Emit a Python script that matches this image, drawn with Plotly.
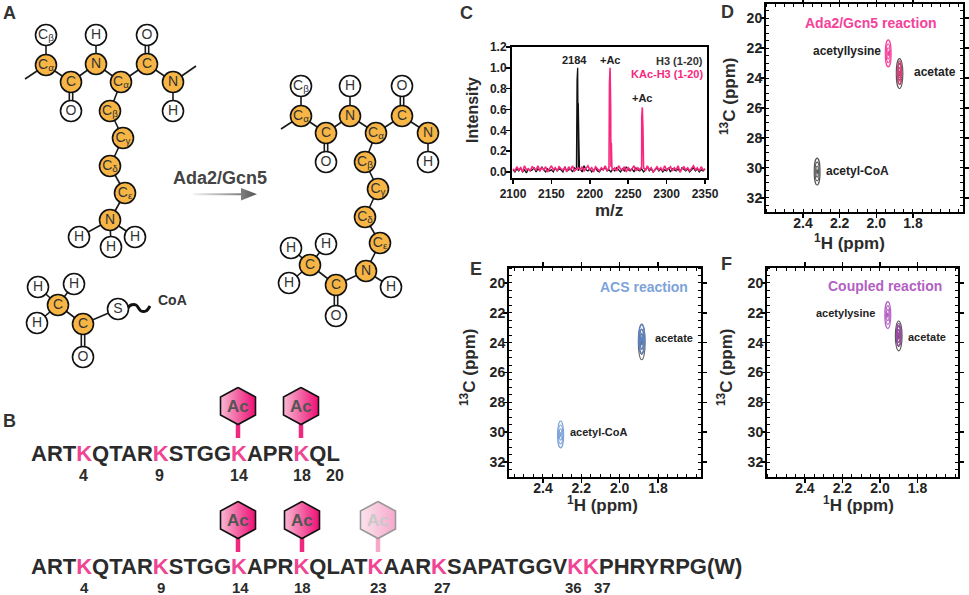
import plotly.graph_objects as go

W, H = 969, 595
FONT = "Liberation Sans, Arial, sans-serif"
DARK = "#2b2b2b"
PINK = "#f7287e"
KPINK = "#ef4592"

# ---------------- Panel C : mass spectrum ----------------
noise_start = 2100.0
noise_step = 2.5
black_noise = [2, 0, 3, 1, 4, 0, 2, -1, 3, 1, 2, 4, 0, 3, 1, 5, 2, 0, 3, 1, 2, 0, 4, 1, 3, 2, 0, 5, 1, 2,
               3, 0, 4, 2, 1, 3, 0, 6, 2, 1, 3, 0, 2, 4, 1, 0, 3, 2, 5, 1, 2, 0, 3, 1, 4, 2, 0, 3, 1, 5,
               2, 1, 3, 0, 4, 2, 1, 3, 0, 2, 5, 1, 3, 0, 2, 4, 1, 3, 0, 2, 1, 4, 0, 3, 2, 1, 3, 0, 4, 2,
               1, 3, 0, 2, 4, 1, 3, 0, 2, 1, 3]
pink_noise = [3, 1, 5, 2, 4, 0, 6, 2, 3, 1, 5, 3, 2, 6, 1, 4, 2, 5, 0, 3, 6, 2, 4, 1, 5, 3, 2, 4, 0, 5,
              2, 6, 1, 3, 4, 2, 5, 1, 3, 6, 2, 4, 0, 5, 3, 1, 4, 2, 6, 1, 3, 5, 2, 4, 1, 6, 3, 2, 5, 0,
              4, 2, 3, 6, 1, 4, 2, 5, 3, 1, 6, 2, 4, 0, 3, 5, 2, 4, 1, 6, 2, 3, 5, 1, 4, 2, 6, 0, 3, 5,
              2, 4, 1, 3, 6, 2, 4, 1, 5, 2, 3]
black_peak_mz = [2182.6, 2183.4, 2184.2, 2185.0, 2185.8, 2186.6]
black_peak_int = [0.03, 0.88, 1.0, 0.66, 0.30, 0.03]
pink_peak1_mz = [2224.8, 2225.6, 2226.4, 2227.2, 2228.0, 2228.8]
pink_peak1_int = [0.04, 0.85, 1.0, 0.60, 0.28, 0.04]
pink_peak2_mz = [2266.8, 2267.6, 2268.4, 2269.2, 2270.0, 2270.8]
pink_peak2_int = [0.04, 0.52, 0.62, 0.42, 0.20, 0.04]
ms_xticks = [2100, 2150, 2200, 2250, 2300, 2350]
ms_yticks = [0.0, 0.2, 0.4, 0.6, 0.8, 1.0, 1.2]


def spectrum(noise, peaks):
    pts = [(noise_start + noise_step * i, v / 100.0) for i, v in enumerate(noise)]
    for mzs, ints in peaks:
        pts += list(zip(mzs, ints))
    pts.sort()
    return [p[0] for p in pts], [p[1] for p in pts]


bx, by = spectrum(black_noise, [(black_peak_mz, black_peak_int)])
px_, py_ = spectrum(pink_noise, [(pink_peak1_mz, pink_peak1_int), (pink_peak2_mz, pink_peak2_int)])

# ---------------- Panels D/E/F : HSQC peaks ----------------
nmr_xticks = [2.4, 2.2, 2.0, 1.8]
nmr_yticks = [20, 22, 24, 26, 28, 30, 32]
ring_scales = [1.0, 0.7, 0.42, 0.15]

D_h = [1.935, 1.873, 1.873, 2.323]
D_c = [22.35, 23.7, 23.65, 30.25]
D_dh = [0.016, 0.018, 0.012, 0.016]
D_dc = [0.9, 1.0, 0.8, 0.9]
D_col = ["#f5419b", "#555555", "#d8407a", "#555555"]

E_h = [1.885, 1.885, 2.308]
E_c = [23.95, 23.75, 30.15]
E_dh = [0.018, 0.015, 0.016]
E_dc = [1.2, 0.95, 0.9]
E_col = ["#666666", "#5b84c8", "#7ea3d9"]

F_h = [1.958, 1.90, 1.90]
F_c = [22.15, 23.55, 23.45]
F_dh = [0.016, 0.018, 0.012]
F_dc = [0.9, 1.0, 0.75]
F_col = ["#b35fc3", "#555555", "#9a4ca5"]

# ---------------- Panel A : atoms ----------------
atom_labels = ["C<sub>β</sub>", "C<sub>α</sub>", "C", "O", "N", "H", "C<sub>α</sub>", "C", "O", "N", "H",
               "C<sub>β</sub>", "C<sub>γ</sub>", "C<sub>δ</sub>", "C<sub>ε</sub>", "N", "H", "H", "H",
               "H", "H", "C", "H", "C", "O", "S",
               "C<sub>β</sub>", "C<sub>α</sub>", "C", "O", "N", "H", "C<sub>α</sub>", "C", "O", "N", "H",
               "C<sub>β</sub>", "C<sub>γ</sub>", "C<sub>δ</sub>", "C<sub>ε</sub>", "N", "H", "C", "O", "C",
               "H", "H", "H"]
atom_x = [46, 46, 71, 71, 96, 96, 121, 147, 147, 173, 173, 110, 123, 110, 125, 110, 79, 111, 135,
          38, 74, 58, 37, 83, 83, 118,
          301, 301, 326, 326, 350, 350, 376, 402, 402, 428, 428, 365, 378, 365, 380, 366, 391, 336, 336,
          310, 291, 326, 289]
atom_y = [35, 65, 82, 111, 64, 35, 82, 64, 35, 82, 111, 111, 138, 166, 193, 220, 237, 247, 237,
          287, 284, 305, 323, 324, 357, 309,
          86, 116, 133, 162, 116, 86, 133, 116, 86, 133, 162, 162, 189, 217, 243, 271, 287, 285, 316,
          265, 248, 244, 283]
atom_orange = [0, 1, 1, 0, 1, 0, 1, 1, 0, 1, 0, 1, 1, 1, 1, 1, 0, 0, 0,
               0, 0, 1, 0, 1, 0, 0,
               0, 1, 1, 0, 1, 0, 1, 1, 0, 1, 0, 1, 1, 1, 1, 1, 0, 1, 0,
               1, 0, 0, 0]
single_bonds = [(0, 1), (1, 2), (2, 4), (4, 5), (4, 6), (6, 7), (7, 9), (9, 10), (6, 11), (11, 12),
                (12, 13), (13, 14), (14, 15), (15, 16), (15, 17), (15, 18),
                (19, 21), (20, 21), (22, 21), (21, 23), (23, 25),
                (26, 27), (27, 28), (28, 30), (30, 31), (30, 32), (32, 33), (33, 35), (35, 36), (32, 37),
                (37, 38), (38, 39), (39, 40), (40, 41), (41, 42), (41, 43), (43, 45), (45, 46), (45, 47),
                (45, 48)]
double_bonds = [(2, 3), (7, 8), (23, 24), (28, 29), (33, 34), (43, 44)]
stub_from = [1, 9, 27]
stub_to_x = [25, 196, 281]
stub_to_y = [79, 66, 129]
coa_wave_x = [127, 131, 136, 141, 146, 150]
coa_wave_y = [309, 305, 305, 311, 311, 306]

# ---------------- Panel B : sequences ----------------
seq1 = "ARTKQTARKSTGGKAPRKQL"
seq2 = "ARTKQTARKSTGGKAPRKQLATKAARKSAPATGGVKKPHRYRPG(W)"
seq1_num = ["4", "9", "14", "18", "20"]
seq1_num_x = [83, 159, 239, 302, 335]
seq2_num = ["4", "9", "14", "18", "23", "27", "36", "37"]
seq2_num_x = [84, 161, 240, 302, 378, 442, 573, 602]
ac_x = [238, 301, 238, 302, 378]
ac_y = [406, 406, 520, 520, 520]
ac_faded = [0, 0, 0, 0, 1]

fig = go.Figure()

# ---- C traces ----
fig.add_trace(go.Scatter(x=bx, y=by, mode="lines", line=dict(color="#111111", width=1.3),
                         xaxis="x", yaxis="y", hoverinfo="skip"))
fig.add_trace(go.Scatter(x=px_, y=py_, mode="lines", line=dict(color=PINK, width=1.6),
                         xaxis="x", yaxis="y", hoverinfo="skip"))

shapes = []
annotations = []


def ann(x, y, text, size, color=DARK, xref="x5", yref="y5", xanchor="center", yanchor="middle",
        angle=0, bold=True):
    annotations.append(dict(x=x, y=y, xref=xref, yref=yref, text=text, showarrow=False,
                            xanchor=xanchor, yanchor=yanchor, textangle=angle,
                            font=dict(family=FONT, size=size, color=color,
                                      weight="bold" if bold else "normal")))


ann(2180, 1.0, "2184", 11, "#222", "x", "y", yanchor="bottom")
ann(2227.5, 1.0, "+Ac", 11, "#222", "x", "y", yanchor="bottom")
ann(2269, 0.63, "+Ac", 11, "#222", "x", "y", yanchor="bottom")
ann(2350, 1.07, "H3 (1-20)", 11, "#333", "x", "y", xanchor="right")
ann(2350, 0.945, "KAc-H3 (1-20)", 11, PINK, "x", "y", xanchor="right")

# ---- NMR ellipses ----
for ax, hs, cs, dhs, dcs, cols in [("2", D_h, D_c, D_dh, D_dc, D_col),
                                   ("3", E_h, E_c, E_dh, E_dc, E_col),
                                   ("4", F_h, F_c, F_dh, F_dc, F_col)]:
    for h, c, dh, dc, col in zip(hs, cs, dhs, dcs, cols):
        for s in ring_scales:
            shapes.append(dict(type="circle", xref="x" + ax, yref="y" + ax,
                               x0=h - dh * s, x1=h + dh * s, y0=c - dc * s, y1=c + dc * s,
                               line=dict(color=col, width=1.1)))

# NMR labels (data coordinates)
ann(2.027, 20.34, "Ada2/Gcn5 reaction", 14, "#f5419b", "x2", "y2")
ann(1.962, 22.2, "acetyllysine", 12, "#222", "x2", "y2", xanchor="right")
ann(1.805, 23.6, "acetate", 12, "#222", "x2", "y2", xanchor="left")
ann(2.285, 30.2, "acetyl-CoA", 12, "#222", "x2", "y2", xanchor="left")
ann(1.875, 20.27, "ACS reaction", 14, "#7ea3d9", "x3", "y3")
ann(1.828, 23.7, "acetate", 11, "#222", "x3", "y3", xanchor="left")
ann(2.27, 30.0, "acetyl-CoA", 11, "#222", "x3", "y3", xanchor="left")
ann(1.974, 20.2, "Coupled reaction", 14, "#b35fc3", "x4", "y4")
ann(2.017, 22.0, "acetylysine", 11, "#222", "x4", "y4", xanchor="right")
ann(1.863, 23.6, "acetate", 11, "#222", "x4", "y4", xanchor="left")

# axis titles
ann(472, 110, "Intensity", 16, DARK, angle=-90)
ann(609, 210, "m/z", 17, DARK)
ann(728, 97, "<sup>13</sup>C (ppm)", 17, DARK, angle=-90)
ann(849, 242, "<sup>1</sup>H (ppm)", 17, DARK)
ann(468, 368, "<sup>13</sup>C (ppm)", 17, DARK, angle=-90)
ann(602, 504, "<sup>1</sup>H (ppm)", 17, DARK)
ann(725, 368, "<sup>13</sup>C (ppm)", 17, DARK, angle=-90)
ann(858, 504, "<sup>1</sup>H (ppm)", 17, DARK)

# panel letters
for lx, ly, lt in [(9, 13, "A"), (9, 421, "B"), (466, 13, "C"), (727, 12, "D"), (476, 269, "E"),
                   (726, 264, "F")]:
    ann(lx, ly, lt, 18, "#333")

# ---- Panel A drawing ----
bx_l, by_l = [], []
for a, b in single_bonds:
    bx_l += [atom_x[a], atom_x[b], None]
    by_l += [atom_y[a], atom_y[b], None]
for a, xx, yy in zip(stub_from, stub_to_x, stub_to_y):
    bx_l += [atom_x[a], xx, None]
    by_l += [atom_y[a], yy, None]
for a, b in double_bonds:
    ddx, ddy = atom_x[b] - atom_x[a], atom_y[b] - atom_y[a]
    ln = (ddx ** 2 + ddy ** 2) ** 0.5
    nx, ny = -ddy / ln * 1.7, ddx / ln * 1.7
    for sgn in (1, -1):
        bx_l += [atom_x[a] + sgn * nx, atom_x[b] + sgn * nx, None]
        by_l += [atom_y[a] + sgn * ny, atom_y[b] + sgn * ny, None]
fig.add_trace(go.Scatter(x=bx_l, y=by_l, mode="lines", line=dict(color="#1a1a1a", width=1.6),
                         xaxis="x5", yaxis="y5", hoverinfo="skip"))
fig.add_trace(go.Scatter(x=coa_wave_x, y=coa_wave_y, mode="lines",
                         line=dict(color="#111", width=3, shape="spline"),
                         xaxis="x5", yaxis="y5", hoverinfo="skip"))
fig.add_trace(go.Scatter(
    x=atom_x, y=atom_y, mode="markers+text", text=atom_labels, textposition="middle center",
    textfont=dict(family=FONT, size=14, color="#333333"),
    marker=dict(size=21, color=["#f6b545" if o else "white" for o in atom_orange],
                line=dict(color="#111", width=1.6)),
    xaxis="x5", yaxis="y5", hoverinfo="skip"))
ann(172, 300, "CoA", 14, "#333")

# reaction arrow
fig.add_trace(go.Scatter(
    x=[193, 241, 241, 257, 241, 241, 193, 193], y=[193.2, 193.2, 188, 194.2, 200.4, 195.2, 195.2, 193.2],
    mode="lines", fill="toself", line=dict(width=0, color="rgba(0,0,0,0)"),
    fillgradient=dict(type="horizontal", colorscale=[[0, "#f2f2f2"], [0.6, "#9a9a9a"], [1, "#555555"]]),
    xaxis="x5", yaxis="y5", hoverinfo="skip"))
ann(220, 178, "Ada2/Gcn5", 18, "#444")

# ---- Panel B ----
def seq_html(s):
    return "".join('<span style="color:%s">K</span>' % KPINK if ch == "K" else ch for ch in s)


ann(29, 453, seq_html(seq1), 22, DARK, xanchor="left")
ann(29, 566, seq_html(seq2), 22, DARK, xanchor="left")
for t, xx in zip(seq1_num, seq1_num_x):
    ann(xx, 475, t, 16, DARK)
for t, xx in zip(seq2_num, seq2_num_x):
    ann(xx, 587, t, 15, DARK)

hex_dx = [0, 17.5, 17.5, 0, -17.5, -17.5, 0]
hex_dy = [-18.5, -9, 9, 18.5, 9, -9, -18.5]
for cx, cy, fd in zip(ac_x, ac_y, ac_faded):
    stem = "#f7a8c8" if fd else "#f0287f"
    fig.add_trace(go.Scatter(x=[cx, cx], y=[cy + 17, cy + 32], mode="lines",
                             line=dict(color=stem, width=4.5), xaxis="x5", yaxis="y5",
                             hoverinfo="skip"))
    cs = [[0, "#fbe4ee"], [1, "#f6a9cb"]] if fd else [[0, "#f7b8d3"], [1, "#ee0f74"]]
    fig.add_trace(go.Scatter(
        x=[cx + d for d in hex_dx], y=[cy + d for d in hex_dy], mode="lines", fill="toself",
        line=dict(color="#999999" if fd else "#111111", width=1.6),
        fillgradient=dict(type="horizontal", colorscale=cs),
        xaxis="x5", yaxis="y5", hoverinfo="skip"))
    ann(cx, cy, "Ac", 17, "#c9c9c9" if fd else "#555555")

# ---------------- layout ----------------
def dx(a, b):
    return [a / W, b / W]


def dy(top, bottom):
    return [1 - bottom / H, 1 - top / H]


nmr_common = dict(showline=True, linecolor="black", linewidth=2, mirror="ticks", ticks="outside",
                  ticklen=4, tickwidth=1.5, tickcolor="black", showgrid=False, zeroline=False,
                  tickfont=dict(family=FONT, size=14, color="#222", weight="bold"),
                  fixedrange=True, automargin=False)


def nmr_x(domain, rng):
    d = dict(nmr_common)
    d.update(domain=domain, range=rng, tickmode="array", tickvals=nmr_xticks,
             ticktext=["%.1f" % v for v in nmr_xticks], ticklabelstandoff=-7,
             minor=dict(ticks="inside", ticklen=3, tickwidth=1, tickcolor="black", dtick=0.05, tick0=0))
    return d


def nmr_y(domain):
    d = dict(nmr_common)
    d.update(domain=domain, range=[33.0, 19.0], tickmode="array", tickvals=nmr_yticks,
             ticktext=[str(v) for v in nmr_yticks], ticklabelstandoff=-5,
             minor=dict(ticks="inside", ticklen=3, tickwidth=1, tickcolor="black", dtick=0.5, tick0=0))
    return d


ms_common = dict(showline=True, linecolor="black", linewidth=2, mirror=True, ticks="outside",
                 ticklen=4, tickwidth=1.5, tickcolor="black", showgrid=False, zeroline=False,
                 tickfont=dict(family=FONT, size=12, color="#222", weight="bold"), fixedrange=True,
                 automargin=False)

yD = nmr_y(dy(4, 212))
yD["range"] = [32.95, 19.05]

fig.update_layout(
    width=W, height=H, margin=dict(l=0, r=0, t=0, b=0, pad=0), autosize=False,
    paper_bgcolor="white", plot_bgcolor="rgba(0,0,0,0)", showlegend=False,
    font=dict(family=FONT, color=DARK),
    xaxis=dict(ms_common, domain=dx(512, 707), range=[2098.7, 2352.6], anchor="y",
               tickmode="array", tickvals=ms_xticks, ticktext=[str(v) for v in ms_xticks]),
    yaxis=dict(ms_common, domain=dy(47, 178), range=[-0.058, 1.2], anchor="x", ticklabelstandoff=-3,
               tickmode="array", tickvals=ms_yticks, ticktext=["%.1f" % v for v in ms_yticks]),
    xaxis2=dict(nmr_x(dx(766, 963), [2.602, 1.527]), anchor="y2"),
    yaxis2=dict(yD, anchor="x2"),
    xaxis3=dict(nmr_x(dx(509, 701), [2.577, 1.576]), anchor="y3"),
    yaxis3=dict(nmr_y(dy(268, 477)), anchor="x3"),
    xaxis4=dict(nmr_x(dx(767, 958), [2.602, 1.584]), anchor="y4"),
    yaxis4=dict(nmr_y(dy(268, 477)), anchor="x4"),
    xaxis5=dict(domain=[0, 1], range=[0, W], visible=False, fixedrange=True, anchor="y5",
                automargin=False),
    yaxis5=dict(domain=[0, 1], range=[H, 0], visible=False, fixedrange=True, anchor="x5",
                automargin=False),
    shapes=shapes, annotations=annotations,
)

fig.write_html("out.html", config={"displayModeBar": False, "staticPlot": True},
               post_script="document.body.style.margin='0';document.body.style.overflow='hidden';")
